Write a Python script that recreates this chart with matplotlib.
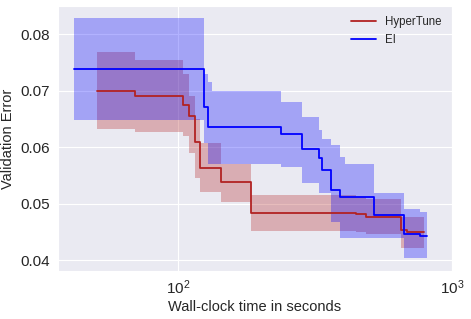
import numpy as np
import matplotlib
matplotlib.use('Agg')
import matplotlib.pyplot as plt
import seaborn as sns

# HyperTune (red): step times, mean and band
ht_time = [50.6, 69.5, 104, 110, 115, 120, 143, 185, 445, 484, 653, 682, 789]
ht_mean = [0.0700, 0.0691, 0.0675, 0.0655, 0.0610, 0.0563, 0.0538, 0.0484, 0.0481, 0.0476, 0.0453, 0.0450, 0.0450]
ht_upper = [0.0768, 0.0755, 0.0730, 0.0690, 0.0650, 0.0607, 0.0571, 0.0515, 0.0512, 0.0508, 0.0477, 0.0477, 0.0477]
ht_lower = [0.0633, 0.0627, 0.0620, 0.0590, 0.0545, 0.0521, 0.0503, 0.0452, 0.0450, 0.0447, 0.0421, 0.0421, 0.0421]

# EI (blue)
ei_time = [41.6, 124, 128.7, 133, 238.5, 284.4, 327, 336, 363, 389, 406, 518, 666, 762, 807]
ei_mean = [0.0739, 0.0671, 0.0636, 0.0636, 0.0624, 0.0596, 0.0580, 0.0559, 0.0525, 0.0511, 0.0511, 0.0480, 0.0447, 0.0443, 0.0443]
ei_upper = [0.0828, 0.0729, 0.0715, 0.0700, 0.0680, 0.0654, 0.0630, 0.0615, 0.0604, 0.0583, 0.0570, 0.0518, 0.0490, 0.0485, 0.0485]
ei_lower = [0.0649, 0.0607, 0.0571, 0.0571, 0.0565, 0.0536, 0.0518, 0.0518, 0.0468, 0.0440, 0.0440, 0.0440, 0.0403, 0.0403, 0.0403]

sns.set_style('darkgrid')
plt.rcParams['font.family'] = ['Liberation Sans', 'DejaVu Sans']
plt.rcParams['mathtext.fontset'] = 'custom'
plt.rcParams['mathtext.rm'] = 'Liberation Sans'
plt.rcParams['mathtext.it'] = 'Liberation Sans'

fig = plt.figure(figsize=(4.71, 3.19), dpi=100)
ax = fig.add_axes([0.123, 0.151, 0.837, 0.830])

ax.fill_between(ht_time, ht_lower, ht_upper, step='post', color='firebrick', alpha=0.3, linewidth=0)
ax.fill_between(ei_time, ei_lower, ei_upper, step='post', color='blue', alpha=0.3, linewidth=0)
ax.plot(ht_time, ht_mean, drawstyle='steps-post', color='firebrick', linewidth=1.3, label='HyperTune')
ax.plot(ei_time, ei_mean, drawstyle='steps-post', color='blue', linewidth=1.3, label='EI')

ax.set_xscale('log')
ax.set_xlim(36.5, 1000)
ax.set_ylim(0.0381, 0.085)
ax.set_yticks([0.04, 0.05, 0.06, 0.07, 0.08])
ax.xaxis.set_minor_locator(matplotlib.ticker.NullLocator())
ax.tick_params(labelsize=11, pad=2)
ax.set_xlabel('Wall-clock time in seconds', fontsize=10.5, labelpad=2)
ax.set_ylabel('Validation Error', fontsize=10.5, labelpad=4)
ax.legend(loc='upper right', fontsize=8.3, frameon=False, handlelength=2.2)

fig.savefig('out.png', dpi=100)
